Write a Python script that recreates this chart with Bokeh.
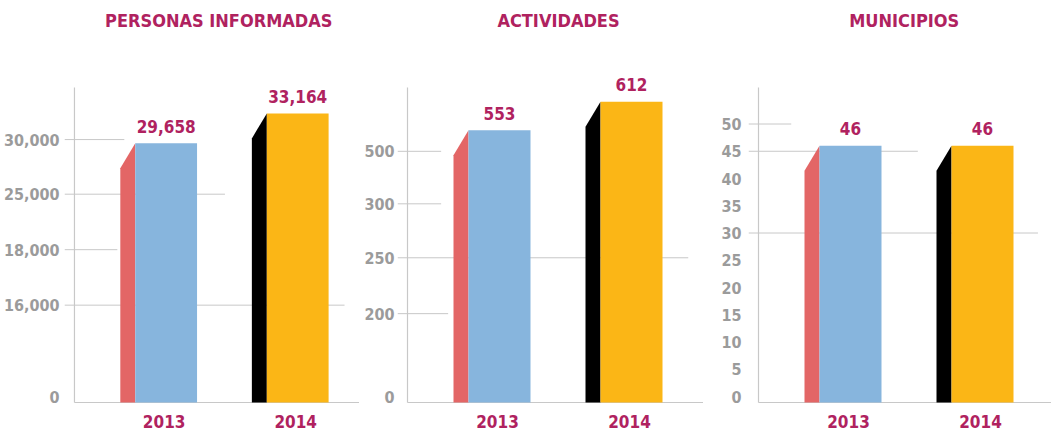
from bokeh.plotting import figure
from bokeh.layouts import row
from bokeh.models import Range1d, FixedTicker, ColumnDataSource
from bokeh.core.properties import value
from bokeh.embed import file_html
from bokeh.resources import INLINE

# ---------------- data ----------------
years = ["2013", "2014"]
titles = ["PERSONAS INFORMADAS", "ACTIVIDADES", "MUNICIPIOS"]

personas = [29658, 33164]
actividades = [553, 612]
municipios = [46, 46]

personas_labels = ["29,658", "33,164"]
actividades_labels = ["553", "612"]
municipios_labels = ["46", "46"]

# tick positions (where each label sits on the drawn scale) and tick labels
personas_ticks = [0, 10700, 17200, 23700, 30100]
personas_tick_labels = ["0", "16,000", "18,000", "25,000", "30,000"]
actividades_ticks = [0, 172, 288, 400, 509]
actividades_tick_labels = ["0", "200", "250", "300", "500"]
municipios_ticks = [0, 5, 10, 15, 20, 25, 30, 35, 40, 45, 50]
municipios_tick_labels = ["0", "5", "10", "15", "20", "25", "30", "35", "40", "45", "50"]

# partial grid lines: tick value and how far right the line runs (in bar slots)
personas_grid_y = [10700, 17200, 23700, 30100]
personas_grid_end = [2.356, 0.629, 1.447, 0.682]
actividades_grid_y = [172, 288, 400, 509]
actividades_grid_end = [0.611, 2.43, 0.558, 0.558]
municipios_grid_y = [30, 45, 50]
municipios_grid_end = [2.42, 1.51, 0.551]

# ---------------- style ----------------
FONT = "'Noto Sans ExtraCondensed', 'Noto Sans Condensed', 'DejaVu Sans Condensed', sans-serif"
MAGENTA = "#B0225F"
GRAY_TXT = "#9B9B9B"
GRID = "#C8C8C8"
FRONT = ["#87B5DD", "#FBB616"]
SIDE = ["#E36666", "#000000"]

FIG_H = 433
AXIS_TOP_PX = 309      # px from zero to top of the vertical axis line
ZERO_TO_TOP = 396      # px from zero to top of frame
ZERO_TO_BOTTOM = 37    # px from zero to bottom of frame
BASE_PX = 6            # baseline is this many px below zero
CAT_PX = 25            # category labels below zero
TITLE_PX = 376         # title centre above zero
PX_SLOT = 132.0
AXIS_TO_BAR = 92.0
TICK_OUT = 10.0
FRONT_HALF = 31.0
SIDE_W = 15.0
DEPTH = 25.0
TITLE_X = [1.40, 1.447, 1.407]
TICK_SIZE = "16px"
TEXT_SIZE = "17px"
TITLE_SIZE = "18px"


def panel(i, title, vals, vlabels, tpos, tlabs, gy, gend, top, width, border_left, standoff):
    frame_w = width - border_left
    k = AXIS_TOP_PX / top
    y0 = -ZERO_TO_BOTTOM / k
    y1 = ZERO_TO_TOP / k
    x0 = 1 - (AXIS_TO_BAR + TICK_OUT) / PX_SLOT
    x1 = x0 + frame_w / PX_SLOT
    xa = 1 - AXIS_TO_BAR / PX_SLOT
    base = -BASE_PX / k

    p = figure(width=width, height=FIG_H, x_range=Range1d(x0, x1), y_range=Range1d(y0, y1),
               output_backend="svg", toolbar_location=None, x_axis_location=None,
               min_border_left=border_left, min_border_right=0, min_border_top=0,
               min_border_bottom=0)
    p.outline_line_color = None
    p.xgrid.visible = False
    p.ygrid.visible = False
    p.background_fill_color = "white"
    p.border_fill_color = "white"

    ax = p.yaxis[0]
    ax.ticker = FixedTicker(ticks=tpos)
    ax.major_label_overrides = {t: l for t, l in zip(tpos, tlabs)}
    ax.axis_line_color = None
    ax.major_tick_line_color = None
    ax.minor_tick_line_color = None
    ax.major_tick_out = 0
    ax.major_tick_in = 0
    ax.major_label_standoff = standoff
    ax.major_label_text_font = FONT
    ax.major_label_text_font_size = TICK_SIZE
    ax.major_label_text_font_style = "bold"
    ax.major_label_text_color = GRAY_TXT

    xs = [1, 2]
    # grid lines
    p.segment(x0=[x0] * len(gy), y0=gy, x1=gend, y1=gy, line_color=GRID, line_width=1)
    # baseline and vertical axis line
    p.segment(x0=[xa], y0=[base], x1=[x1], y1=[base], line_color=GRID, line_width=1.2)
    p.segment(x0=[xa], y0=[base], x1=[xa], y1=[top], line_color=GRID, line_width=1.2)

    fh = FRONT_HALF / PX_SLOT
    sw = SIDE_W / PX_SLOT
    d = DEPTH / k
    src = ColumnDataSource(dict(
        left=[x - fh for x in xs], right=[x + fh for x in xs],
        top=vals, bottom=[base] * 2, color=FRONT,
        x=xs, lab=vlabels, years=years, cy=[-CAT_PX / k] * 2,
    ))
    side_xs = [[x - fh - sw, x - fh - sw, x - fh, x - fh] for x in xs]
    side_ys = [[base, v - d, v, base] for v in vals]
    p.patches(xs=side_xs, ys=side_ys, fill_color=SIDE, line_color=None)
    p.quad(left="left", right="right", top="top", bottom="bottom", fill_color="color",
           line_color=None, source=src)

    p.text(x="x", y="top", text="lab", source=src, text_align="center", text_baseline="middle",
           y_offset=-17, text_font=value(FONT), text_font_size=TEXT_SIZE, text_font_style="bold",
           text_color=MAGENTA)
    p.text(x="x", y="cy", text="years", source=src, text_align="center", text_baseline="middle",
           x_offset=-2, text_font=value(FONT), text_font_size=TEXT_SIZE, text_font_style="bold",
           text_color=MAGENTA)
    p.text(x=[TITLE_X[i]], y=[TITLE_PX / k], text=[title], text_align="center",
           text_baseline="middle", text_font=value(FONT), text_font_size=TITLE_SIZE,
           text_font_style="bold", text_color=MAGENTA)
    return p


p1 = panel(0, titles[0], personas, personas_labels, personas_ticks, personas_tick_labels,
           personas_grid_y, personas_grid_end, 36200, 359, 63, 5)
p2 = panel(1, titles[1], actividades, actividades_labels, actividades_ticks, actividades_tick_labels,
           actividades_grid_y, actividades_grid_end, 641.5, 344, 38, 3)
p3 = panel(2, titles[2], municipios, municipios_labels, municipios_ticks, municipios_tick_labels,
           municipios_grid_y, municipios_grid_end, 56.7, 348, 45, 7)

layout = row(p1, p2, p3)
open("out.html", "w").write(file_html(layout, INLINE))
